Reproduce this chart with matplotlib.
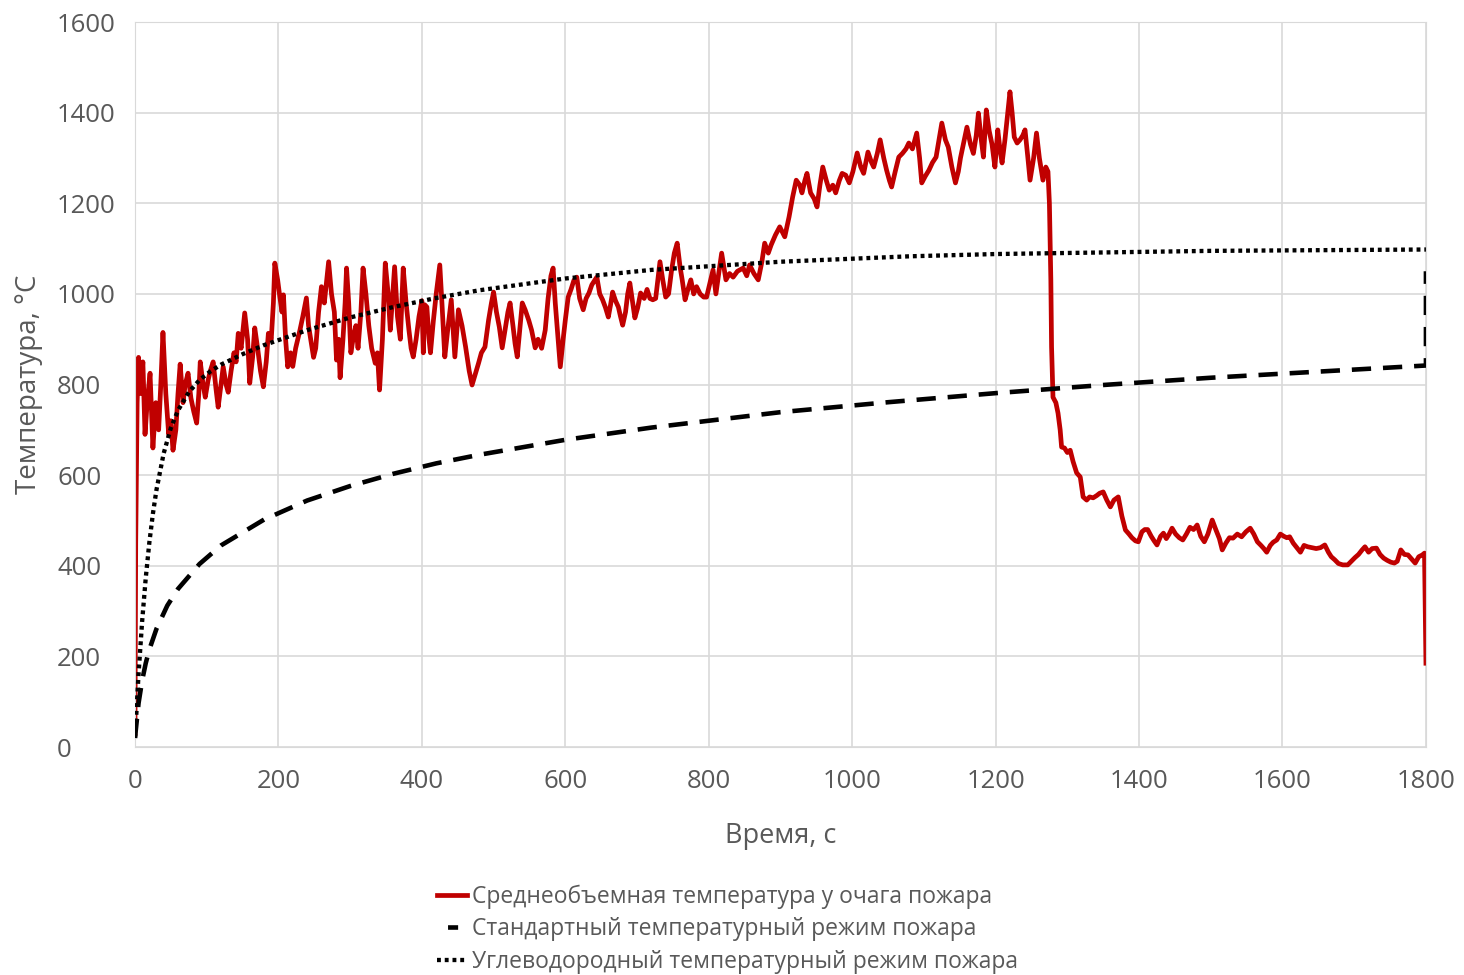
import numpy as np
import matplotlib
matplotlib.use("Agg")
import matplotlib.pyplot as plt
from matplotlib.lines import Line2D

plt.rcParams['font.family'] = ['Open Sans', 'DejaVu Sans']

# --- average temperature near the fire source ---
t_growth = [0, 1, 3, 5, 8, 11, 14, 17, 21, 25, 29, 33, 36, 39, 43, 47, 50, 53, 57, 60,
            63, 67, 70, 74, 78, 82, 86, 89, 91, 95, 98, 102, 105, 109, 113, 116, 120, 123, 127, 130,
            134, 138, 141, 144, 148, 153, 157, 160, 164, 167, 171, 175, 179, 183, 186, 190, 193, 195, 199]
T_growth = [30, 450, 760, 860, 780, 850, 690, 760, 825, 660, 760, 700, 800, 915, 780, 690, 720, 655, 700, 780,
            845, 760, 800, 825, 770, 740, 715, 780, 850, 800, 772, 810, 830, 850, 790, 750, 800, 839, 800, 783,
            830, 870, 850, 913, 880, 958, 900, 803, 860, 925, 880, 830, 795, 850, 913, 900, 980, 1068, 1030]

t_mid = [202, 205, 207, 210, 213, 217, 220, 224, 227, 230, 234, 239, 242, 245, 249, 252, 256, 260, 264, 268,
         270, 274, 278, 281, 284, 286, 290, 293, 295, 298, 301, 305, 308, 311, 315, 318, 322, 326, 330, 335,
         338, 341, 345, 349, 353, 356, 359, 362, 366, 370, 374, 378, 382, 385, 388, 392, 396, 400, 402, 404,
         407, 410, 412, 416, 420, 425, 428, 432, 436, 441, 446, 451, 456, 461, 466, 470, 474, 479, 483, 488,
         493, 497, 500, 504, 508, 512, 516, 520, 523, 527, 530, 533, 537, 540, 544, 549, 553, 558, 562, 567,
         572, 576, 580, 583, 586, 590, 593, 597, 600, 604, 608, 612, 616, 620, 625, 629, 633, 637, 641, 644,
         648, 652, 656, 660, 663, 666, 670, 674, 677, 680, 684, 687, 690, 694, 697, 701, 705, 710, 714, 718,
         722, 726, 729, 732, 736, 740, 744, 748, 752, 756, 760, 763, 767, 771, 775, 779, 783, 788, 793, 797,
         801, 806, 810, 814]
T_mid = [993, 960, 998, 900, 839, 870, 840, 880, 900, 920, 950, 991, 930, 900, 860, 880, 960, 1016, 980, 1040,
         1071, 1000, 960, 854, 900, 815, 900, 980, 1057, 980, 870, 910, 930, 880, 960, 1057, 1000, 930, 880, 847,
         870, 788, 900, 1068, 1000, 920, 990, 1060, 950, 900, 1057, 980, 920, 880, 861, 900, 950, 985, 870, 976,
         971, 900, 870, 940, 1000, 1064, 980, 861, 920, 987, 861, 965, 930, 883, 830, 799, 820, 847, 870, 883,
         942, 980, 1004, 960, 927, 881, 920, 960, 980, 930, 890, 861, 930, 980, 965, 942, 920, 881, 900, 880,
         920, 990, 1040, 1057, 980, 900, 839, 900, 942, 993, 1010, 1030, 1037, 990, 965, 990, 1002, 1020, 1030, 1037,
         1000, 987, 970, 949, 975, 1004, 985, 971, 950, 931, 960, 1000, 1024, 980, 947, 970, 1002, 990, 1010, 990,
         987, 990, 1030, 1071, 1030, 993, 1000, 1050, 1090, 1112, 1060, 1031, 987, 1010, 1031, 1000, 1016, 1000, 993, 993,
         1020, 1053, 1000, 1046]

t_peak = [818, 824, 829, 834, 840, 848, 853, 857, 863, 869, 874, 878, 883, 887, 893, 899, 906, 912, 917, 922,
          927, 930, 934, 937, 942, 947, 951, 955, 959, 964, 968, 973, 977, 982, 986, 991, 996, 1001, 1007, 1012,
          1016, 1022, 1027, 1030, 1035, 1039, 1044, 1048, 1052, 1055, 1060, 1065, 1070, 1075, 1079, 1084, 1090, 1094, 1097, 1102,
          1107, 1112, 1117, 1121, 1125, 1130, 1134, 1139, 1144, 1148, 1151, 1155, 1160, 1165, 1169, 1173, 1176, 1180, 1183, 1187,
          1191, 1195, 1199, 1203, 1206, 1209, 1213, 1217, 1220, 1223, 1226, 1230, 1234, 1238, 1241, 1245, 1248, 1253, 1257, 1261,
          1264, 1266, 1270, 1273, 1275, 1276, 1277, 1278, 1280]
T_peak = [1090, 1031, 1045, 1037, 1050, 1057, 1040, 1064, 1045, 1031, 1070, 1112, 1090, 1108, 1130, 1148, 1126, 1170, 1214, 1251,
          1240, 1223, 1250, 1266, 1223, 1210, 1192, 1240, 1280, 1250, 1229, 1240, 1223, 1250, 1266, 1262, 1245, 1270, 1311, 1280,
          1266, 1313, 1290, 1280, 1310, 1340, 1300, 1273, 1250, 1236, 1270, 1302, 1310, 1320, 1333, 1320, 1355, 1300, 1245, 1260,
          1273, 1290, 1302, 1340, 1377, 1340, 1324, 1280, 1245, 1270, 1300, 1330, 1368, 1330, 1310, 1350, 1399, 1340, 1302, 1406,
          1360, 1330, 1280, 1362, 1320, 1289, 1340, 1400, 1446, 1400, 1346, 1333, 1340, 1350, 1362, 1300, 1251, 1300, 1355, 1300,
          1270, 1251, 1280, 1270, 1200, 1120, 1031, 883, 772]

t_decay = [1284, 1287, 1290, 1292, 1296, 1300, 1304, 1308, 1313, 1318, 1322, 1327, 1331, 1336, 1341, 1345, 1350, 1355, 1360, 1365,
           1371, 1376, 1381, 1386, 1390, 1395, 1399, 1404, 1408, 1412, 1417, 1421, 1425, 1430, 1434, 1438, 1442, 1446, 1451, 1456,
           1461, 1466, 1471, 1476, 1481, 1486, 1491, 1496, 1502, 1507, 1512, 1516, 1521, 1526, 1531, 1537, 1543, 1549, 1555, 1560,
           1565, 1570, 1574, 1578, 1583, 1587, 1592, 1597, 1602, 1606, 1610, 1615, 1620, 1625, 1630, 1635, 1641, 1647, 1653, 1659,
           1664, 1668, 1673, 1678, 1684, 1691, 1696, 1701, 1706, 1711, 1715, 1720, 1725, 1731, 1736, 1741, 1746, 1751, 1756, 1760,
           1765, 1770, 1775, 1780, 1785, 1790, 1795, 1798, 1800]
T_decay = [760, 737, 700, 662, 660, 650, 655, 630, 605, 596, 552, 545, 552, 550, 555, 560, 563, 545, 530, 545,
           552, 510, 479, 470, 462, 455, 453, 475, 480, 480, 465, 455, 446, 465, 472, 460, 470, 483, 470, 462,
           457, 470, 485, 480, 490, 465, 453, 470, 501, 480, 460, 435, 450, 462, 461, 470, 464, 475, 483, 470,
           453, 445, 438, 430, 445, 452, 457, 470, 465, 462, 464, 450, 440, 430, 445, 442, 440, 438, 440, 446,
           430, 420, 413, 405, 402, 402, 410, 418, 425, 435, 442, 430, 438, 439, 425, 417, 412, 408, 406, 410,
           435, 425, 424, 415, 406, 420, 424, 428, 185]

# --- standard fire curve ---
t_std = [0, 5, 10, 15, 20, 30, 45, 60, 90, 120, 180, 240, 300, 360, 420, 480, 600, 720, 900, 1050,
         1200, 1350, 1500, 1800, 1800]
T_std = [20, 97, 147, 185, 215, 261, 312, 349, 404, 445, 502, 544, 576, 603, 626, 645, 678, 705, 739, 761,
         781, 799, 815, 842, 1050]

# --- hydrocarbon fire curve ---
t_hc = [0, 5, 10, 15, 20, 25, 30, 40, 50, 60, 75, 90, 105, 120, 150, 180, 240, 300, 360, 420,
        480, 600, 720, 900, 1080, 1200, 1500, 1800]
T_hc = [20, 162, 278, 373, 451, 515, 568, 648, 704, 743, 783, 810, 829, 844, 867, 887, 920, 948, 971, 991,
        1008, 1034, 1053, 1071, 1083, 1088, 1095, 1098]

labels = ["Среднеобъемная температура у очага пожара",
          "Стандартный температурный режим пожара",
          "Углеводородный температурный режим пожара"]

t_red = t_growth + t_mid + t_peak + t_decay
T_red = T_growth + T_mid + T_peak + T_decay

grey = '#595959'
fig = plt.figure(figsize=(14.64, 9.75), dpi=100)
ax = fig.add_axes([0.0922, 0.2338, 0.8818, 0.7436])

ax.plot(t_red, T_red, color='#C00000', lw=3.4, zorder=2)
ax.plot(t_std, T_std, color='black', lw=3.3, ls=(0, (4.2, 2.6)), zorder=3)
ax.plot(t_hc, T_hc, color='black', lw=3.1, ls=(0, (0.9, 0.9)), zorder=3)

ax.set_xlim(0, 1800)
ax.set_ylim(0, 1600)
ax.set_xticks(range(0, 1801, 200))
ax.set_yticks(range(0, 1601, 200))
ax.grid(True, color='#D9D9D9', lw=1.2)
ax.set_axisbelow(True)
for s in ax.spines.values():
    s.set_color('#D9D9D9')
ax.tick_params(length=0, labelsize=18.5, labelcolor=grey)
ax.tick_params(axis='x', pad=16)
ax.tick_params(axis='y', pad=56)
for lab in ax.get_yticklabels():
    lab.set_horizontalalignment('left')

ax.set_xlabel("Время, с", fontsize=19.5, color=grey, labelpad=20)
ax.set_ylabel("Температура, °C", fontsize=20, color=grey, labelpad=10)

# legend handles styled like the reference key
handles = [Line2D([], [], color='#C00000', lw=3.4),
           Line2D([], [], color='black', lw=3.3, ls=(9.9, (2.2, 10))),
           Line2D([], [], color='black', lw=3.1, ls=(0, (0.9, 0.9)))]
fig.legend(handles, labels, loc='upper left', bbox_to_anchor=(0.2985, 0.093), frameon=False,
           fontsize=16.5, handlelength=1.31, handletextpad=0.22, labelspacing=0.38,
           borderpad=0, borderaxespad=0, labelcolor=grey)

fig.savefig("out.png", dpi=100)
